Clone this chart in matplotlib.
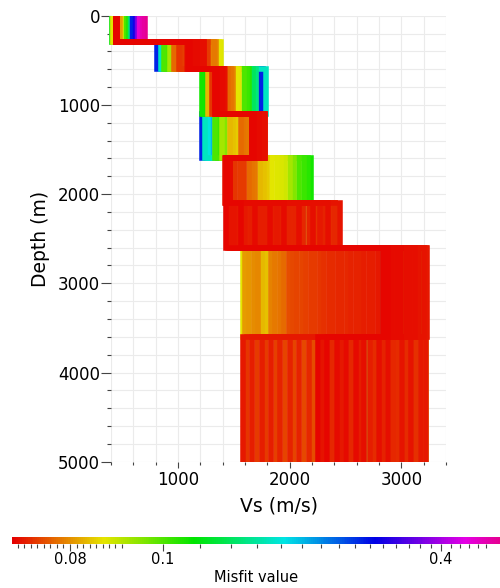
import matplotlib
matplotlib.use('Agg')
import matplotlib.pyplot as plt
import numpy as np
from matplotlib.colors import ListedColormap, hsv_to_rgb

# layer interfaces (m) and bottom of the plot
depths = [300, 600, 1100, 1600, 2100, 2600, 3600]
max_depth = 5000

# one entry per model: misfit and Vs (m/s) of the 8 layers
misfit = [0.0715, 0.0716, 0.0717, 0.0718, 0.0719, 0.0720, 0.0721, 0.0722, 0.0723, 0.0724, 0.0726, 0.0728,
          0.0725, 0.0727, 0.0729, 0.0731, 0.0733, 0.0736, 0.0739,
          0.0728, 0.0729, 0.0730, 0.0731, 0.0732, 0.0733, 0.0734, 0.0735, 0.0736, 0.0737, 0.0738, 0.0740, 0.0742,
          0.0744, 0.0746, 0.0748, 0.0750, 0.0752, 0.0754, 0.0756, 0.0758,
          0.0778, 0.0782, 0.0786, 0.0790, 0.0794, 0.0798, 0.0802, 0.0806,
          0.0825, 0.0830, 0.0835,
          0.0852, 0.0856, 0.0860, 0.0864,
          0.090, 0.094,
          0.100, 0.104, 0.108, 0.112, 0.118,
          0.140, 0.150,
          0.17, 0.18, 0.20,
          0.27, 0.30,
          0.36,
          0.47, 0.50, 0.52, 0.53, 0.535]

vs1 = [445, 450, 455, 448, 452, 458, 442, 446, 454, 450, 456, 444,
       447, 453, 457, 443, 449, 451, 455,
       441, 446, 450, 454, 458, 444, 448, 452, 456, 443, 447, 451, 455,
       449, 453, 445, 457, 441, 451, 447, 455,
       446, 452, 458, 444, 450, 456, 448, 485,
       450, 455, 445,
       418, 490, 450, 455,
       452, 448,
       505, 412, 522, 450, 446,
       530, 545,
       405, 460, 446,
       572, 592,
       607,
       635, 655, 675, 690, 700]

vs2 = [1090, 1110, 1130, 1150, 1170, 1190, 1210, 1230, 1100, 1140, 1180, 1220,
       1095, 1125, 1160, 1195, 1235, 1120, 1200,
       1085, 1105, 1135, 1155, 1175, 1205, 1225, 1237, 1115, 1145, 1165, 1185, 1215,
       1005, 1030, 1270, 1150, 1180, 1110, 1210, 1055,
       965, 985, 1320, 1340, 1150, 1100, 1200, 1295,
       1160, 1180, 1120,
       1365, 1386, 1160, 1200,
       930, 1150,
       875, 895, 1130, 1170, 1210,
       1100, 1190,
       845, 1140, 1180,
       815, 1160,
       1120,
       1100, 1150, 1200, 1130, 1180]

vs3 = [1330, 1345, 1360, 1375, 1390, 1405, 1415, 1340, 1355, 1370, 1385, 1400,
       1335, 1365, 1395, 1410, 1350, 1380, 1417,
       1328, 1342, 1358, 1372, 1388, 1402, 1416, 1338, 1352, 1368, 1382, 1398, 1412,
       1305, 1390, 1340, 1400, 1370, 1350, 1380, 1410,
       1450, 1475, 1460, 1490, 1380, 1360, 1400, 1345,
       1265, 1380, 1400,
       1525, 1545, 1390, 1370,
       1360, 1390,
       1590, 1615, 1640, 1215, 1235,
       1672, 1697,
       1792, 1350, 1400,
       1745, 1765,
       1380,
       1340, 1370, 1400, 1355, 1385]

vs4 = [1665, 1680, 1695, 1710, 1725, 1740, 1755, 1770, 1780, 1690, 1720, 1750,
       1660, 1700, 1735, 1765, 1775, 1685, 1745,
       1662, 1675, 1688, 1705, 1718, 1732, 1748, 1762, 1778, 1670, 1698, 1728, 1758,
       1700, 1730, 1760, 1680, 1740, 1710, 1770, 1690,
       1560, 1585, 1610, 1630, 1700, 1740, 1690, 1770,
       1465, 1490, 1515,
       1700, 1720, 1740, 1760,
       1395, 1420,
       1330, 1355, 1700, 1730, 1760,
       1710, 1750,
       1240, 1265, 1290,
       1215, 1700,
       1720,
       1680, 1720, 1760, 1700, 1740]

vs5 = [1430, 1440, 1450, 1460, 1470, 1435, 1445, 1455, 1465, 1430, 1450, 1470,
       1425, 1438, 1448, 1458, 1468, 1442, 1462,
       1428, 1436, 1444, 1452, 1460, 1468, 1432, 1440, 1448, 1456, 1464, 1470, 1426,
       1512, 1555, 1590, 1440, 1455, 1465, 1435, 1450,
       1640, 1665, 1690, 1450, 1460, 1440, 1430, 1465,
       1735, 1770, 1800,
       1845, 1885, 1925, 1960,
       2000, 2040,
       2085, 2125, 2160, 2188, 1450,
       1445, 1460,
       1440, 1455, 1465,
       1450, 1430,
       1460,
       1430, 1450, 1470, 1440, 1460]

vs6 = [1430, 1560, 1690, 1820, 1950, 2080, 2210, 2340, 2450, 1500, 1890, 2270,
       1470, 1600, 1730, 1860, 1990, 2120, 2380,
       1530, 1650, 1780, 1920, 2050, 2170, 2300, 2410, 1450, 1620, 1760, 2020, 2240,
       2120, 2210, 1780, 1530, 1730, 1990, 2340, 2410,
       1600, 1820, 1990, 2210, 2410, 1690, 1890, 2080,
       1650, 1950, 2240,
       1760, 1860, 2050, 2170,
       1690, 2300,
       1600, 1890, 2210, 1990, 1780,
       1920, 2120,
       1620, 2020, 2380,
       1780, 2210,
       1990,
       1500, 1820, 2080, 2300, 1730]

vs7 = [2840, 2880, 2920, 2960, 3000, 3040, 3080, 3120, 3160, 3200, 3230, 2860,
       2900, 2980, 3060, 3140, 3220, 2940, 3100,
       2790, 2750, 2710, 2670, 2630, 2590, 2550, 2510, 2470, 2430, 2390, 2350, 2310,
       2270, 2230, 2190, 2150, 2110, 2070, 2030, 1990,
       1950, 1910, 1870, 1830, 1720, 1680, 1640, 1600,
       1755, 1790, 3000,
       1578, 2900, 3100, 3200,
       3040, 2960,
       2880, 2920, 3080, 3160, 3000,
       2920, 3120,
       2840, 3040, 3200,
       3000, 2880,
       3100,
       2900, 3000, 3100, 3200, 2860]

vs8 = [2250, 2335, 2420, 2505, 2590, 2670, 2800, 2880, 3010, 3090, 3175, 3225,
       2295, 2460, 2630, 2715, 2840, 2925, 3050,
       1580, 1665, 1750, 1830, 1915, 2000, 2085, 2170, 2380, 2545, 2755, 2965, 3135,
       1620, 1705, 1790, 1875, 1960, 2040, 2125, 2210,
       2250, 2420, 2590, 2800, 3010, 3175, 2335, 2505,
       2670, 2880, 3090,
       2295, 2460, 2630, 3225,
       2715, 2840,
       2925, 3050, 2250, 2420, 2590,
       2800, 3010,
       2335, 2505, 3175,
       2670, 2880,
       3090,
       2460, 2630, 2715, 2925, 3050]

cbar_major = [0.08, 0.1, 0.4]
cbar_labels = ['0.08', '0.1', '0.4']


def misfit_pos(m):
    # position along the colour scale (pixels of the bar, 12 -> 500)
    m = np.asarray(m, dtype=float)
    lo = 70 + (m - 0.08) * 6500
    mid = 122 + (m - 0.088) / 0.012 * 41
    hi = 163 + 462 * np.log10(np.maximum(m, 1e-6) / 0.1)
    return np.where(m <= 0.088, lo, np.where(m <= 0.1, mid, hi))


bar_lo, bar_hi = 12, 500
hues = np.linspace(0, 322 / 360, 256)
cmap = ListedColormap(hsv_to_rgb(np.column_stack([hues, np.ones(256), 0.9 * np.ones(256)])))

fig = plt.figure(figsize=(5, 5.88), dpi=100)
ax = fig.add_axes([111 / 500, 1 - 461.7 / 588, 335 / 500, 446 / 588])

vs = np.array([vs1, vs2, vs3, vs4, vs5, vs6, vs7, vs8]).T
yy = np.concatenate([[0], np.repeat(depths, 2), [max_depth]])
# worst models first, best ones on top
for i in np.argsort(misfit, kind='stable')[::-1]:
    c = cmap((float(misfit_pos(misfit[i])) - bar_lo) / (bar_hi - bar_lo))
    ax.plot(np.repeat(vs[i], 2), yy, color=c, lw=4.0,
            solid_joinstyle='miter', solid_capstyle='butt', clip_on=False)

ax.set_xlim(400, 3400)
ax.set_ylim(max_depth, 0)
ax.set_xticks([1000, 2000, 3000])
ax.set_xticks(np.arange(400, 3401, 200), minor=True)
ax.set_yticks(np.arange(0, 5001, 1000))
ax.set_yticks(np.arange(0, 5001, 200), minor=True)
ax.grid(which='both', color='#ebebeb', lw=0.8)
ax.set_axisbelow(True)
for s in ax.spines.values():
    s.set_visible(False)
ax.tick_params(axis='y', which='major', length=7, width=0.8, pad=1, labelsize=12, color='#444444')
ax.tick_params(axis='y', which='minor', length=3, width=0.8, color='#444444')
ax.tick_params(axis='x', which='major', length=4, width=0.8, pad=3, labelsize=12, color='#444444')
ax.tick_params(axis='x', which='minor', length=2.5, width=0.8, color='#444444')
ax.set_ylabel('Depth (m)', fontsize=13.5)
ax.yaxis.set_label_coords(-0.182, 0.5)
ax.set_xlabel('Vs (m/s)', fontsize=13.5)
ax.xaxis.set_label_coords(0.5, -0.079)

# colour scale
cax = fig.add_axes([12 / 500, 1 - 544 / 588, 488 / 500, 7 / 588])
cax.imshow(np.linspace(0, 1, 488)[None, :], cmap=cmap, aspect='auto', extent=[bar_lo, bar_hi, 0, 1])
cax.set_xlim(bar_lo, bar_hi)
cax.set_ylim(0, 1)
minor_vals = [v for v in np.round(np.arange(0.072, 0.0885, 0.001), 3) if v != 0.08]
minor_vals += [v for v in np.round(np.arange(0.12, 0.501, 0.02), 2) if v != 0.4]
cax.set_xticks(misfit_pos(cbar_major))
cax.set_xticklabels(cbar_labels)
cax.set_xticks(misfit_pos(minor_vals), minor=True)
cax.set_yticks([])
for s in cax.spines.values():
    s.set_visible(False)
cax.tick_params(axis='x', which='major', length=5, width=0.8, pad=1, labelsize=10.5, color='#444444')
cax.tick_params(axis='x', which='minor', length=3, width=0.8, color='#444444')
fig.text(256 / 500, 1 - 578 / 588, 'Misfit value', ha='center', va='center', fontsize=10.5)

fig.savefig('out.png', dpi=100)
